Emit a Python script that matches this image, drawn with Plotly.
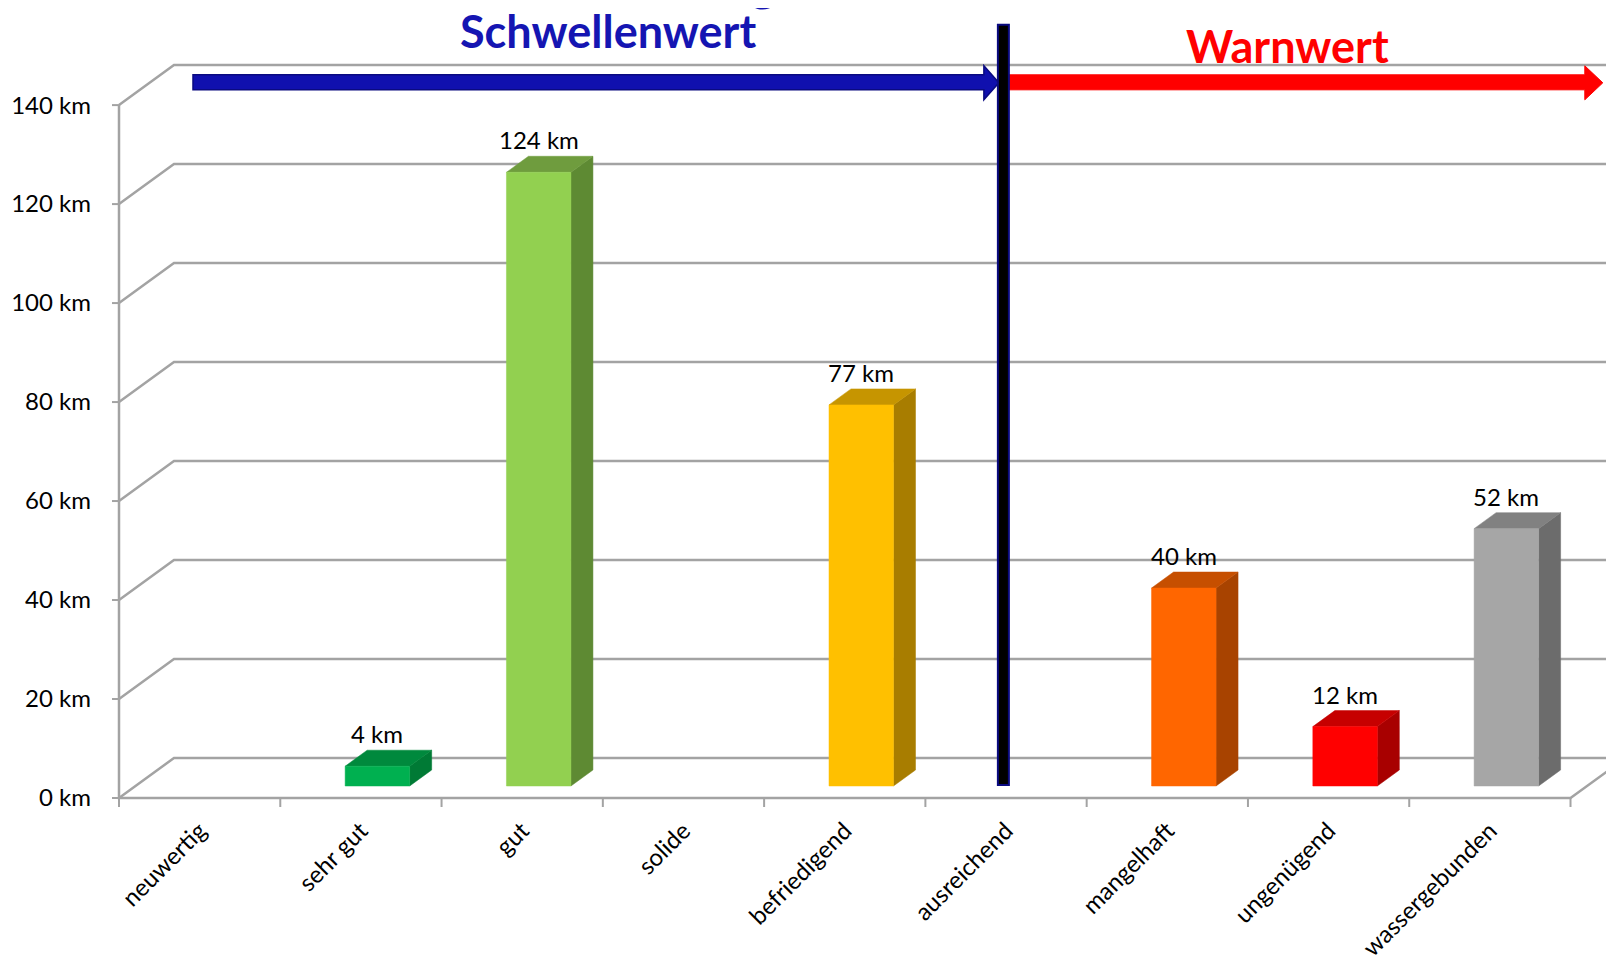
import plotly.graph_objects as go

# ---------------- data ----------------
categories = ["neuwertig", "sehr gut", "gut", "solide", "befriedigend",
              "ausreichend", "mangelhaft", "ungenügend", "wassergebunden"]
values_km = [None, 4, 124, None, 77, None, 40, 12, 52]
front_colors = [None, "#00B050", "#92D050", None, "#FFC000", None, "#FF6600", "#FF0000", "#A6A6A6"]
top_colors = [None, "#00893D", "#6F9C3E", None, "#C69500", None, "#C64F00", "#C60000", "#818181"]
side_colors = [None, "#007A35", "#5E8A33", None, "#A87D00", None, "#A84300", "#A80000", "#6C6C6C"]
y_tick_values = [0, 20, 40, 60, 80, 100, 120, 140]
y_tick_labels = [f"{v} km" for v in y_tick_values]
label_threshold = "Schwellenwert"
label_warning = "Warnwert"

# ---------------- geometry (pixel scale of the layout) ----------------
W, H = 1614, 962
OFF = -7.2
AX_LEFT_PX, AX_BOTTOM_PX = 118 + OFF, 797 + OFF
PX_PER_CAT, PX_PER_KM = 161.3, 4.948
DEPTH_DX_PX, DEPTH_DY_PX = 55, 40
PLOT_LEFT_PX, PLOT_BOTTOM_PX = 106 + OFF, 810 + OFF

dxc = DEPTH_DX_PX / PX_PER_CAT          # depth offset in category units
dyv = DEPTH_DY_PX / PX_PER_KM           # depth offset in km units
x_lo = -(AX_LEFT_PX - PLOT_LEFT_PX) / PX_PER_CAT
x_hi = (W - AX_LEFT_PX) / PX_PER_CAT
y_lo = -(PLOT_BOTTOM_PX - AX_BOTTOM_PX) / PX_PER_KM
y_hi = AX_BOTTOM_PX / PX_PER_KM


def X(px):
    return (px + OFF - AX_LEFT_PX) / PX_PER_CAT


def Y(py):
    return (AX_BOTTOM_PX - (py + OFF)) / PX_PER_KM


GRID = "#A3A3A3"
n = len(categories)
fig = go.Figure()

# back wall gridlines + left wall diagonals
gx, gy = [], []
for v in y_tick_values:
    gx += [0, dxc, x_hi + 1, None]
    gy += [v, v + dyv, v + dyv, None]
fig.add_trace(go.Scatter(x=gx, y=gy, mode="lines", line=dict(color=GRID, width=2.5),
                         hoverinfo="skip", showlegend=False))

# front axes (value axis, floor front edge and right floor edge)
ymax_axis = y_tick_values[-1]
fig.add_trace(go.Scatter(x=[0, 0, n, n + 2 * dxc], y=[ymax_axis, 0, 0, 2 * dyv], mode="lines",
                         line=dict(color=GRID, width=2.5), hoverinfo="skip", showlegend=False))

# tick marks
tx, ty = [], []
for v in y_tick_values:
    tx += [-7 / PX_PER_CAT, 0, None]
    ty += [v, v, None]
for i in range(n + 1):
    tx += [i, i, None]
    ty += [0, -9 / PX_PER_KM, None]
fig.add_trace(go.Scatter(x=tx, y=ty, mode="lines", line=dict(color=GRID, width=2),
                         hoverinfo="skip", showlegend=False))

# 3D bars
D0, D1 = 0.3, 0.7
BW0, BW1 = 0.3, 0.7
annotations = []
for i, v in enumerate(values_km):
    if v is None:
        continue
    x0, x1 = i + BW0, i + BW1
    s0x, s0y = D0 * dxc, D0 * dyv
    s1x, s1y = D1 * dxc, D1 * dyv
    side = ([x1 + s0x, x1 + s1x, x1 + s1x, x1 + s0x, x1 + s0x],
            [s0y, s1y, v + s1y, v + s0y, s0y])
    top = ([x0 + s0x, x1 + s0x, x1 + s1x, x0 + s1x, x0 + s0x],
           [v + s0y, v + s0y, v + s1y, v + s1y, v + s0y])
    front = ([x0 + s0x, x1 + s0x, x1 + s0x, x0 + s0x, x0 + s0x],
             [s0y, s0y, v + s0y, v + s0y, s0y])
    for (px_, py_), col in ((side, side_colors[i]), (top, top_colors[i]), (front, front_colors[i])):
        fig.add_trace(go.Scatter(x=px_, y=py_, mode="lines", fill="toself", fillcolor=col,
                                 line=dict(color=col, width=0.5), hoverinfo="skip",
                                 showlegend=False))
    annotations.append(dict(x=i + 0.5 + s0x, y=v + s1y, xref="x", yref="y",
                            text=f"{v} km", showarrow=False, xanchor="center", yanchor="bottom",
                            font=dict(family="Lato", size=24, color="black")))

# headline texts
annotations.append(dict(x=X(607), y=Y(30), xref="x", yref="y", text=f"<b>{label_threshold}</b>",
                        showarrow=False, xanchor="center", yanchor="middle",
                        font=dict(family="Lato", size=45, color="#1515B2")))
annotations.append(dict(x=X(1287), y=Y(45), xref="x", yref="y", text=f"<b>{label_warning}</b>",
                        showarrow=False, xanchor="center", yanchor="middle",
                        font=dict(family="Lato", size=45, color="#FF0000")))
# descender of the cut-off title line above the chart
annotations.append(dict(x=X(762), y=Y(13), xref="x", yref="y", text="<b>g</b>",
                        showarrow=False, xanchor="center", yanchor="bottom",
                        font=dict(family="Lato", size=50, color="#1515B2")))


def arrow_path(xs, xh, xt, yt, yb, yht, yhb):
    pts = [(xs, yt), (xh, yt), (xh, yht), (xt, (yht + yhb) / 2), (xh, yhb), (xh, yb), (xs, yb)]
    d = "M " + " L ".join(f"{X(a):.5f},{Y(b):.5f}" for a, b in pts) + " Z"
    return d


shapes = [
    dict(type="path", xref="x", yref="y", path=arrow_path(192, 983, 998, 74, 89, 65, 99),
         fillcolor="#1010AE", line=dict(color="#0A0A80", width=1.5), layer="above"),
    dict(type="path", xref="x", yref="y", path=arrow_path(1008, 1584, 1602, 74, 89, 65, 99),
         fillcolor="#FF0000", line=dict(color="#FF0000", width=1), layer="above"),
    dict(type="rect", xref="x", yref="y", x0=X(997), x1=X(1008), y0=Y(784), y1=Y(24),
         fillcolor="#000000", line=dict(color="#0A0A80", width=2), layer="above"),
]

fig.update_layout(
    width=W, height=H,
    margin=dict(l=PLOT_LEFT_PX, r=0, t=0, b=H - PLOT_BOTTOM_PX, pad=0),
    paper_bgcolor="white", plot_bgcolor="white",
    showlegend=False,
    annotations=annotations,
    shapes=shapes,
    xaxis=dict(range=[x_lo, x_hi], tickmode="array", tickvals=[i + 0.5 for i in range(n)],
               ticktext=categories, tickangle=-45, ticks="", showgrid=False, zeroline=False,
               showline=False, automargin=False, fixedrange=True,
               tickfont=dict(family="Lato", size=24, color="black")),
    yaxis=dict(range=[y_lo, y_hi], tickmode="array", tickvals=y_tick_values,
               ticktext=y_tick_labels, ticks="", showgrid=False, zeroline=False,
               showline=False, automargin=False, fixedrange=True, ticklabelstandoff=15,
               tickfont=dict(family="Lato", size=24, color="black")),
)

fig.write_html("out.html")
